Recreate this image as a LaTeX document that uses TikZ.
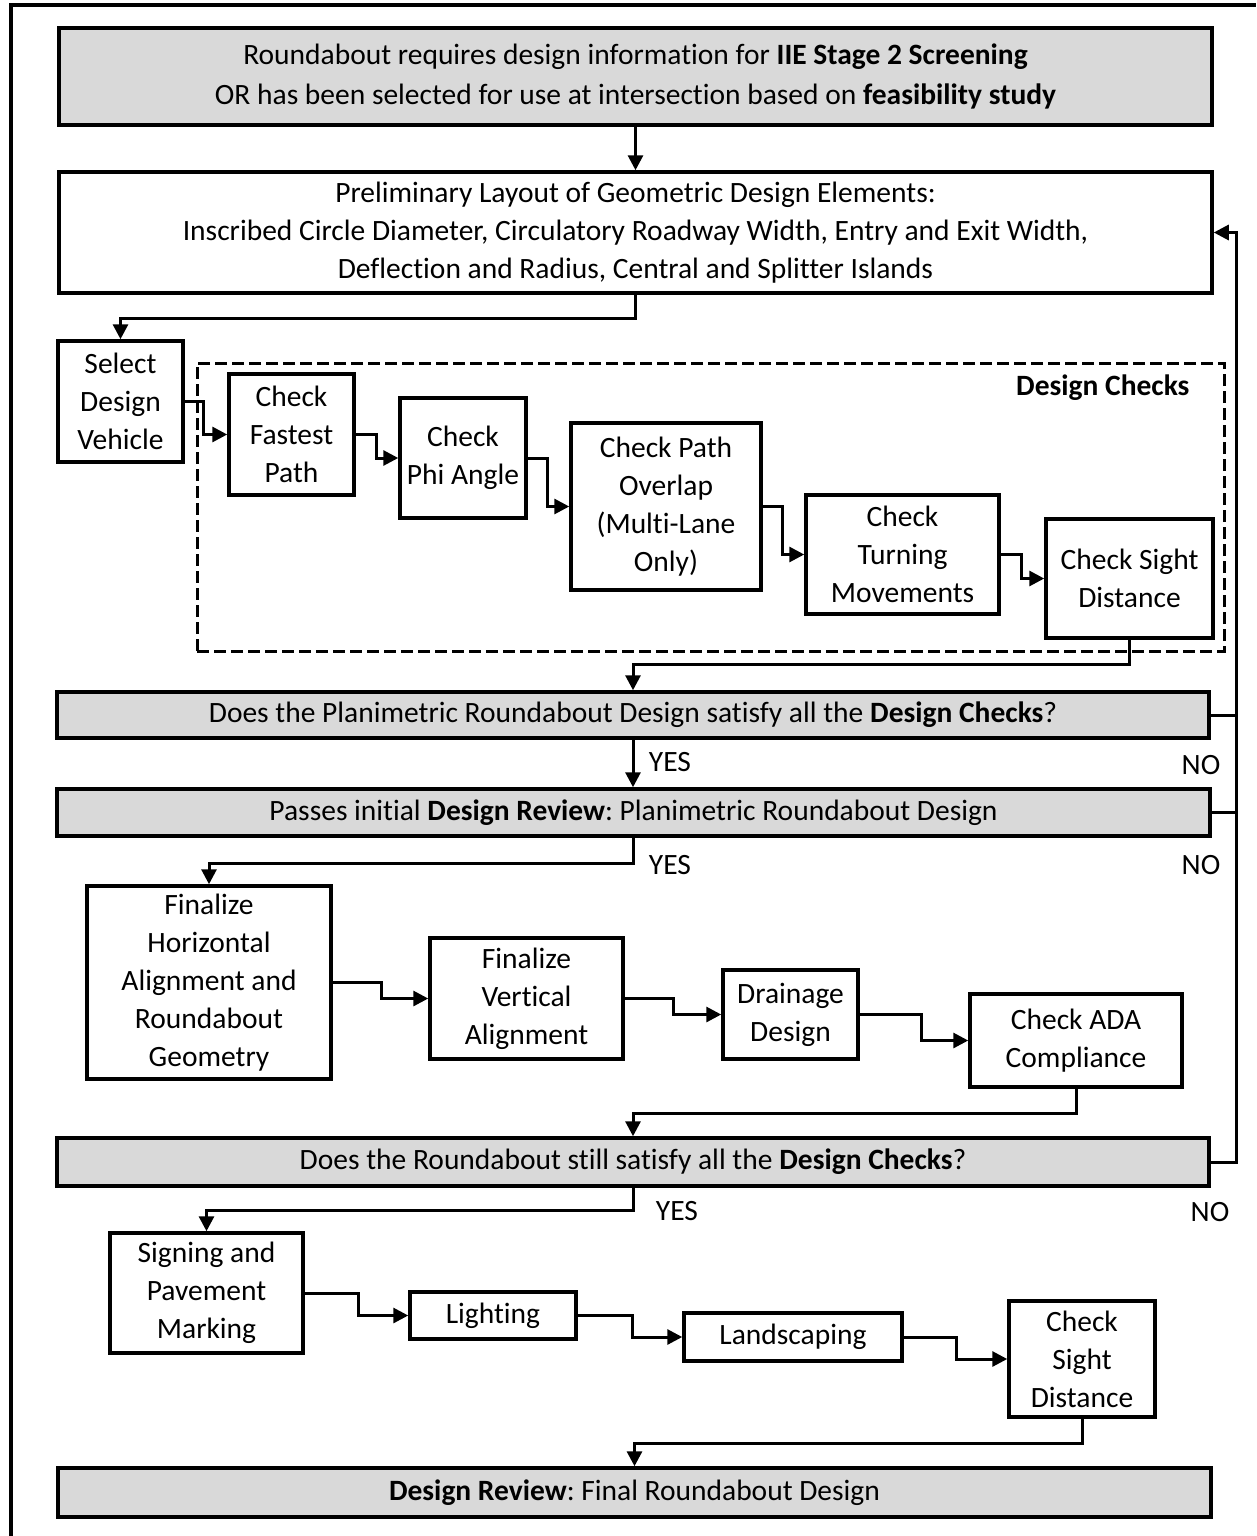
\documentclass[tikz,border=0pt]{standalone}
\usepackage{fontspec}
\setmainfont{Carlito}[Ligatures=NoCommon]
\usepackage{tikz}
\usetikzlibrary{arrows.meta}
\definecolor{boxgrey}{HTML}{D9D9D9}
\frenchspacing

\begin{document}
\begin{tikzpicture}[x=1pt,y=-1pt,
font=\fontsize{29.5}{38}\selectfont,
box/.style={draw,line width=3.5pt,align=center,inner sep=0pt},
grey/.style={box,fill=boxgrey},
arr/.style={line width=3pt,-{Triangle[length=15pt,width=15pt]}},
ln/.style={line width=3pt},
dashbox/.style={draw,line width=3pt,dash pattern=on 12pt off 5pt,inner sep=0pt}]
\useasboundingbox (0,0) rectangle (1256,1536);
\draw[line width=4pt] (11,1536) -- (11,5) -- (1256,5);

\node[grey,minimum width=1153pt,minimum height=97pt] (top) at (635.5,76.5) {Roundabout requires design information for \textbf{IIE Stage 2 Screening}\\[2pt]OR has been selected for use at intersection based on \textbf{feasibility study}};
\node[box,minimum width=1153pt,minimum height=121pt] (prelim) at (635.5,232.5) {Preliminary Layout of Geometric Design Elements:\\Inscribed Circle Diameter, Circulatory Roadway Width, Entry and Exit Width,\\Deflection and Radius, Central and Splitter Islands};

\node[dashbox,minimum width=1027pt,minimum height=288pt] (checks) at (710.5,507) {};
\node[anchor=east] (checkslabel) at (1193,388) {\textbf{Design Checks}};
\node[box,minimum width=125pt,minimum height=121pt] (sel) at (120.5,401.5) {Select\\Design\\Vehicle};
\node[box,minimum width=125pt,minimum height=121pt] (fast) at (291.5,434.5) {Check\\Fastest\\Path};
\node[box,minimum width=126pt,minimum height=120pt] (phi) at (463,458) {Check\\Phi Angle};
\node[box,minimum width=190pt,minimum height=167pt] (ovl) at (666,506.5) {Check Path\\Overlap\\(Multi-Lane\\Only)};
\node[box,minimum width=193pt,minimum height=119pt] (turn) at (902.5,554.5) {Check\\Turning\\Movements};
\node[box,minimum width=167pt,minimum height=119pt] (sight) at (1129.5,578.5) {Check Sight\\Distance};

\node[grey,minimum width=1152pt,minimum height=46pt] (q1) at (633,715) {Does the Planimetric Roundabout Design satisfy all the \textbf{Design Checks}?};
\node[grey,minimum width=1153pt,minimum height=47pt] (rev1) at (633.5,812.5) {Passes initial \textbf{Design Review}: Planimetric Roundabout Design};

\node[box,minimum width=244pt,minimum height=193pt] (ha) at (209,982.5) {Finalize\\Horizontal\\Alignment and\\Roundabout\\Geometry};
\node[box,minimum width=193pt,minimum height=121pt] (va) at (526.5,998.5) {Finalize\\Vertical\\Alignment};
\node[box,minimum width=135pt,minimum height=89pt] (drain) at (790.5,1014.5) {Drainage\\Design};
\node[box,minimum width=212pt,minimum height=93pt] (ada) at (1076,1040.5) {Check ADA\\Compliance};

\node[grey,minimum width=1152pt,minimum height=48pt] (q2) at (633,1162) {Does the Roundabout still satisfy all the \textbf{Design Checks}?};

\node[box,minimum width=193pt,minimum height=120pt] (sign) at (206.5,1293) {Signing and\\Pavement\\Marking};
\node[box,minimum width=166pt,minimum height=47pt] (light) at (493,1315.5) {Lighting};
\node[box,minimum width=218pt,minimum height=48pt] (land) at (793,1337) {Landscaping};
\node[box,minimum width=146pt,minimum height=116pt] (sight2) at (1082,1359) {Check\\Sight\\Distance};

\node[grey,minimum width=1153pt,minimum height=49pt] (final) at (634.5,1492.5) {\textbf{Design Review}: Final Roundabout Design};

\node (yes1) at (670,762) {YES};
\node (yes2) at (670,865) {YES};
\node (yes3) at (677,1211) {YES};
\node (no1) at (1201,765) {NO};
\node (no2) at (1201,865) {NO};
\node (no3) at (1210,1212) {NO};

\coordinate (fb) at (1236,0);

\draw[arr] (top.south) -- (prelim.north);
\draw[arr] (prelim.south) -- ++(0,24) -| (sel.north);
\draw[arr] (sel.east) -- ++(19,0) |- (fast.west);
\draw[arr] (fast.east) -- ++(21,0) |- (phi.west);
\draw[arr] (phi.east) -- ++(20,0) |- (ovl.west);
\draw[arr] (ovl.east) -- ++(20,0) |- (turn.west);
\draw[arr] (turn.east) -- ++(21,0) |- (sight.west);
\draw[arr] (sight.south) -- ++(0,25) -| (q1.north);
\draw[arr] (q1.south) -- (q1.south |- rev1.north);
\draw[arr] (rev1.south) -- ++(0,26) -| (ha.north);
\draw[arr] (ha.east) -- ++(49,0) |- (va.west);
\draw[arr] (va.east) -- ++(49,0) |- (drain.west);
\draw[arr] (drain.east) -- ++(62,0) |- (ada.west);
\draw[arr] (ada.south) -- ++(0,25) -| (q2.north);
\draw[arr] (q2.south) -- ++(0,23) -| (sign.north);
\draw[arr] (sign.east) -- ++(54,0) |- (light.west);
\draw[arr] (light.east) -- ++(55,0) |- (land.west);
\draw[arr] (land.east) -- ++(53,0) |- (sight2.west);
\draw[arr] (sight2.south) -- ++(0,25) -| (final.north);

\draw[arr] (q2.east) -- (q2.east -| fb) |- (prelim.east);
\draw[ln] (q1.east) -- (q1.east -| fb);
\draw[ln] (rev1.east) -- (rev1.east -| fb);

\end{tikzpicture}
\end{document}
